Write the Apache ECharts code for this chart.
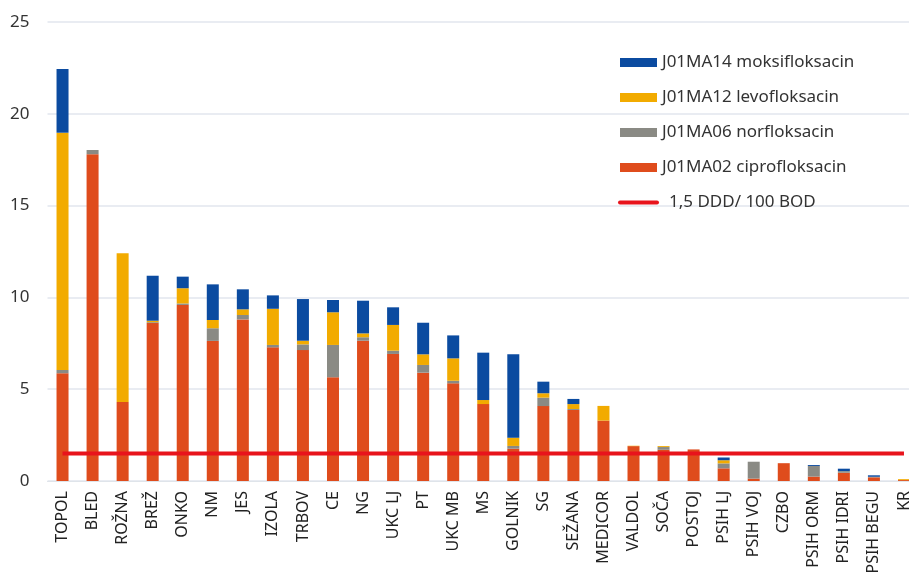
<!DOCTYPE html>
<html>
<head>
<meta charset="utf-8">
<script src="https://cdn.jsdelivr.net/npm/echarts@6/dist/echarts.min.js"></script>
<style>
  html, body { margin: 0; padding: 0; background: #fff; overflow: hidden; }
  /* the last category (KR) is cut by the right edge, as in the source */
  #chart { width: 920px; height: 577px; }
</style>
</head>
<body>
<div id="chart"></div>
<script>
// kategorije (bolnišnice)
var categories = ['TOPOL', 'BLED', 'ROŽNA', 'BREŽ', 'ONKO', 'NM', 'JES', 'IZOLA', 'TRBOV', 'CE',
  'NG', 'UKC LJ', 'PT', 'UKC MB', 'MS', 'GOLNIK', 'SG', 'SEŽANA', 'MEDICOR', 'VALDOL',
  'SOČA', 'POSTOJ', 'PSIH LJ', 'PSIH VOJ', 'CZBO', 'PSIH ORM', 'PSIH IDRI', 'PSIH BEGU', 'KR'];

// DDD / 100 BOD po učinkovinah
var cipro = [5.87, 17.8, 4.3, 8.6, 9.59, 7.63, 8.8, 7.28, 7.13, 5.65,
  7.64, 6.92, 5.9, 5.32, 4.19, 1.76, 4.08, 3.87, 3.29, 1.9,
  1.7, 1.72, 0.69, 0.13, 0.97, 0.24, 0.45, 0.2, 0.05];
var norf = [0.18, 0.23, 0, 0.05, 0.08, 0.69, 0.24, 0.13, 0.31, 1.76,
  0.19, 0.18, 0.42, 0.14, 0, 0.15, 0.46, 0.05, 0, 0,
  0.15, 0, 0.27, 0.92, 0, 0.58, 0.05, 0.03, 0];
var levo = [12.92, 0, 8.1, 0.08, 0.83, 0.45, 0.31, 1.97, 0.2, 1.78,
  0.21, 1.4, 0.58, 1.22, 0.22, 0.45, 0.24, 0.27, 0.8, 0.02,
  0.05, 0, 0.17, 0, 0, 0, 0.02, 0, 0.05];
var moksi = [3.47, 0, 0, 2.45, 0.63, 1.94, 1.09, 0.73, 2.27, 0.67,
  1.78, 0.96, 1.72, 1.25, 2.58, 4.54, 0.63, 0.28, 0, 0,
  0, 0, 0.15, 0, 0, 0.05, 0.15, 0.08, 0];

var threshold = 1.5;
var yTicks = [0, 5, 10, 15, 20, 25];

var fontFamily = 'Noto Sans';

var chart = echarts.init(document.getElementById('chart'));

function barSeries(name, data, color) {
  return {
    name: name,
    type: 'bar',
    stack: 'total',
    barWidth: 12,
    data: data,
    itemStyle: { color: color },
    emphasis: { disabled: true }
  };
}

var option = {
  animation: false,
  textStyle: { fontFamily: fontFamily },
  grid: {
    left: 47.5,
    right: 1,
    top: 22,
    bottom: 96,
    containLabel: false
  },
  legend: {
    orient: 'vertical',
    left: 618,
    top: 54,
    padding: 0,
    itemWidth: 37,
    itemHeight: 9,
    itemGap: 18,
    textStyle: { fontSize: 17, color: '#333', fontFamily: fontFamily },
    data: [
      { name: 'J01MA14 moksifloksacin', icon: 'rect' },
      { name: 'J01MA12 levofloksacin', icon: 'rect' },
      { name: 'J01MA06 norfloksacin', icon: 'rect' },
      { name: 'J01MA02 ciprofloksacin', icon: 'rect' },
      {
        name: '1,5 DDD/ 100 BOD',
        itemStyle: { opacity: 0 },
        lineStyle: { width: 4, color: '#e8141c', cap: 'round' },
        textStyle: { padding: [0, 0, 0, 7] }
      }
    ]
  },
  xAxis: {
    type: 'category',
    data: categories,
    axisLine: { show: true, lineStyle: { color: '#dfe4ea', width: 1 } },
    axisTick: { show: false },
    axisLabel: {
      rotate: 90,
      interval: 0,
      margin: 10,
      fontSize: 16,
      color: '#222',
      fontFamily: fontFamily
    }
  },
  yAxis: {
    type: 'value',
    min: yTicks[0],
    max: yTicks[yTicks.length - 1],
    interval: 5,
    axisLine: { show: false },
    axisTick: { show: false },
    axisLabel: { fontSize: 17, color: '#333', margin: 18, fontFamily: fontFamily },
    splitLine: { lineStyle: { color: '#e2e6ee', width: 1.5 } }
  },
  series: [
    barSeries('J01MA02 ciprofloksacin', cipro, '#df4c1c'),
    barSeries('J01MA06 norfloksacin', norf, '#8a8a84'),
    barSeries('J01MA12 levofloksacin', levo, '#f2ab00'),
    barSeries('J01MA14 moksifloksacin', moksi, '#0b4ba0'),
    {
      name: '1,5 DDD/ 100 BOD',
      type: 'line',
      symbol: 'none',
      data: categories.map(function () { return threshold; }),
      lineStyle: { color: '#e8141c', width: 4 },
      itemStyle: { color: '#e8141c' },
      z: 5
    }
  ]
};

chart.setOption(option);
</script>
</body>
</html>
